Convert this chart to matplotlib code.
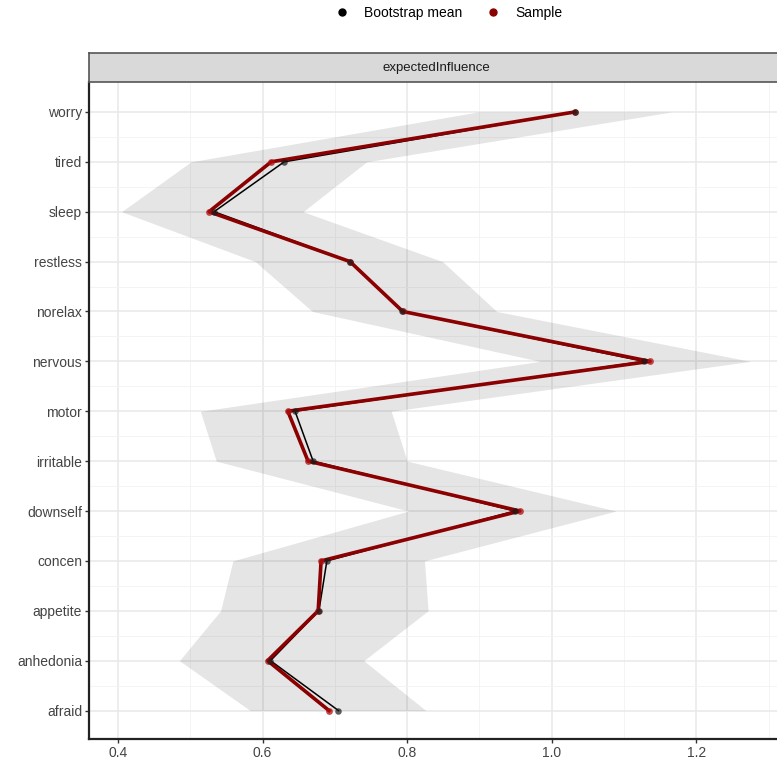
import numpy as np
import matplotlib.pyplot as plt
from matplotlib.lines import Line2D

plt.rcParams['font.family'] = ['Liberation Sans', 'DejaVu Sans']

# nodes from bottom to top
nodes = ["afraid", "anhedonia", "appetite", "concen", "downself", "irritable",
         "motor", "nervous", "norelax", "restless", "sleep", "tired", "worry"]

sample = [0.692, 0.607, 0.677, 0.681, 0.956, 0.663, 0.635,
          1.136, 0.794, 0.721, 0.526, 0.612, 1.032]
boot_mean = [0.705, 0.611, 0.678, 0.689, 0.949, 0.670, 0.645,
             1.128, 0.793, 0.721, 0.533, 0.630, 1.032]
ci_lower = [0.583, 0.485, 0.542, 0.559, 0.802, 0.536, 0.514,
            0.984, 0.669, 0.590, 0.405, 0.501, 0.898]
ci_upper = [0.826, 0.740, 0.829, 0.824, 1.089, 0.800, 0.778,
            1.275, 0.924, 0.849, 0.656, 0.744, 1.166]

W, H = 777, 763
fig = plt.figure(figsize=(W / 100, H / 100), dpi=100)

# panel 89..783 px horizontally, 82..739 px vertically
ax = fig.add_axes([89 / W, (H - 739) / H, (783 - 89) / W, (739 - 82) / H])
y = np.arange(len(nodes))

ax.fill_betweenx(y, ci_lower, ci_upper, color='black', alpha=0.1, lw=0, zorder=2)
ax.plot(boot_mean, y, color='black', lw=1.1, zorder=3)
ax.plot(sample, y, color='#8b0000', lw=2.6, zorder=4)
ax.scatter(sample, y, s=24, color='#b01010', alpha=0.75, lw=0, zorder=5)
ax.scatter(boot_mean, y, s=22, color='#1a1a1a', alpha=0.7, lw=0, zorder=6)

ax.set_xlim(0.36, 0.36 + 694 / 723)
ax.set_ylim(-0.57, 12.6)
ax.set_xticks([0.4, 0.6, 0.8, 1.0, 1.2])
ax.set_xticklabels(['0.4', '0.6', '0.8', '1.0', '1.2'])
ax.set_xticks(np.arange(0.5, 1.35, 0.2), minor=True)
ax.set_yticks(y)
ax.set_yticklabels(nodes)
ax.set_yticks(y[:-1] + 0.5, minor=True)

ax.grid(which='major', color='#e8e8e8', lw=1.1, zorder=0)
ax.grid(which='minor', color='#f3f3f3', lw=0.6, zorder=0)
ax.set_axisbelow(True)
ax.tick_params(which='major', length=3, width=1, color='#333333',
               labelsize=10, labelcolor='#444444', pad=2)
ax.tick_params(which='minor', length=0)
for side in ['left', 'bottom']:
    ax.spines[side].set_linewidth(1.6)
    ax.spines[side].set_color('#222222')
for side in ['top', 'right']:
    ax.spines[side].set_visible(False)

# facet strip
strip = fig.add_axes([89 / W, (H - 82) / H, (783 - 89) / W, 29 / H])
strip.set_facecolor('#d9d9d9')
strip.set_xticks([])
strip.set_yticks([])
for s in strip.spines.values():
    s.set_color('#555555')
    s.set_linewidth(1.2)
strip.text(0.5, 0.5, 'expectedInfluence', ha='center', va='center',
           fontsize=9.5, color='#1a1a1a', transform=strip.transAxes)

handles = [Line2D([], [], marker='o', ls='', color='black', markersize=5),
           Line2D([], [], marker='o', ls='', color='#8b0000', markersize=5)]
fig.legend(handles, ['Bootstrap mean', 'Sample'], loc='center',
           bbox_to_anchor=(445 / W, 1 - 13 / H), ncol=2, frameon=False,
           fontsize=10, handletextpad=0.6, columnspacing=1.2)

fig.savefig('out.png', dpi=100)
